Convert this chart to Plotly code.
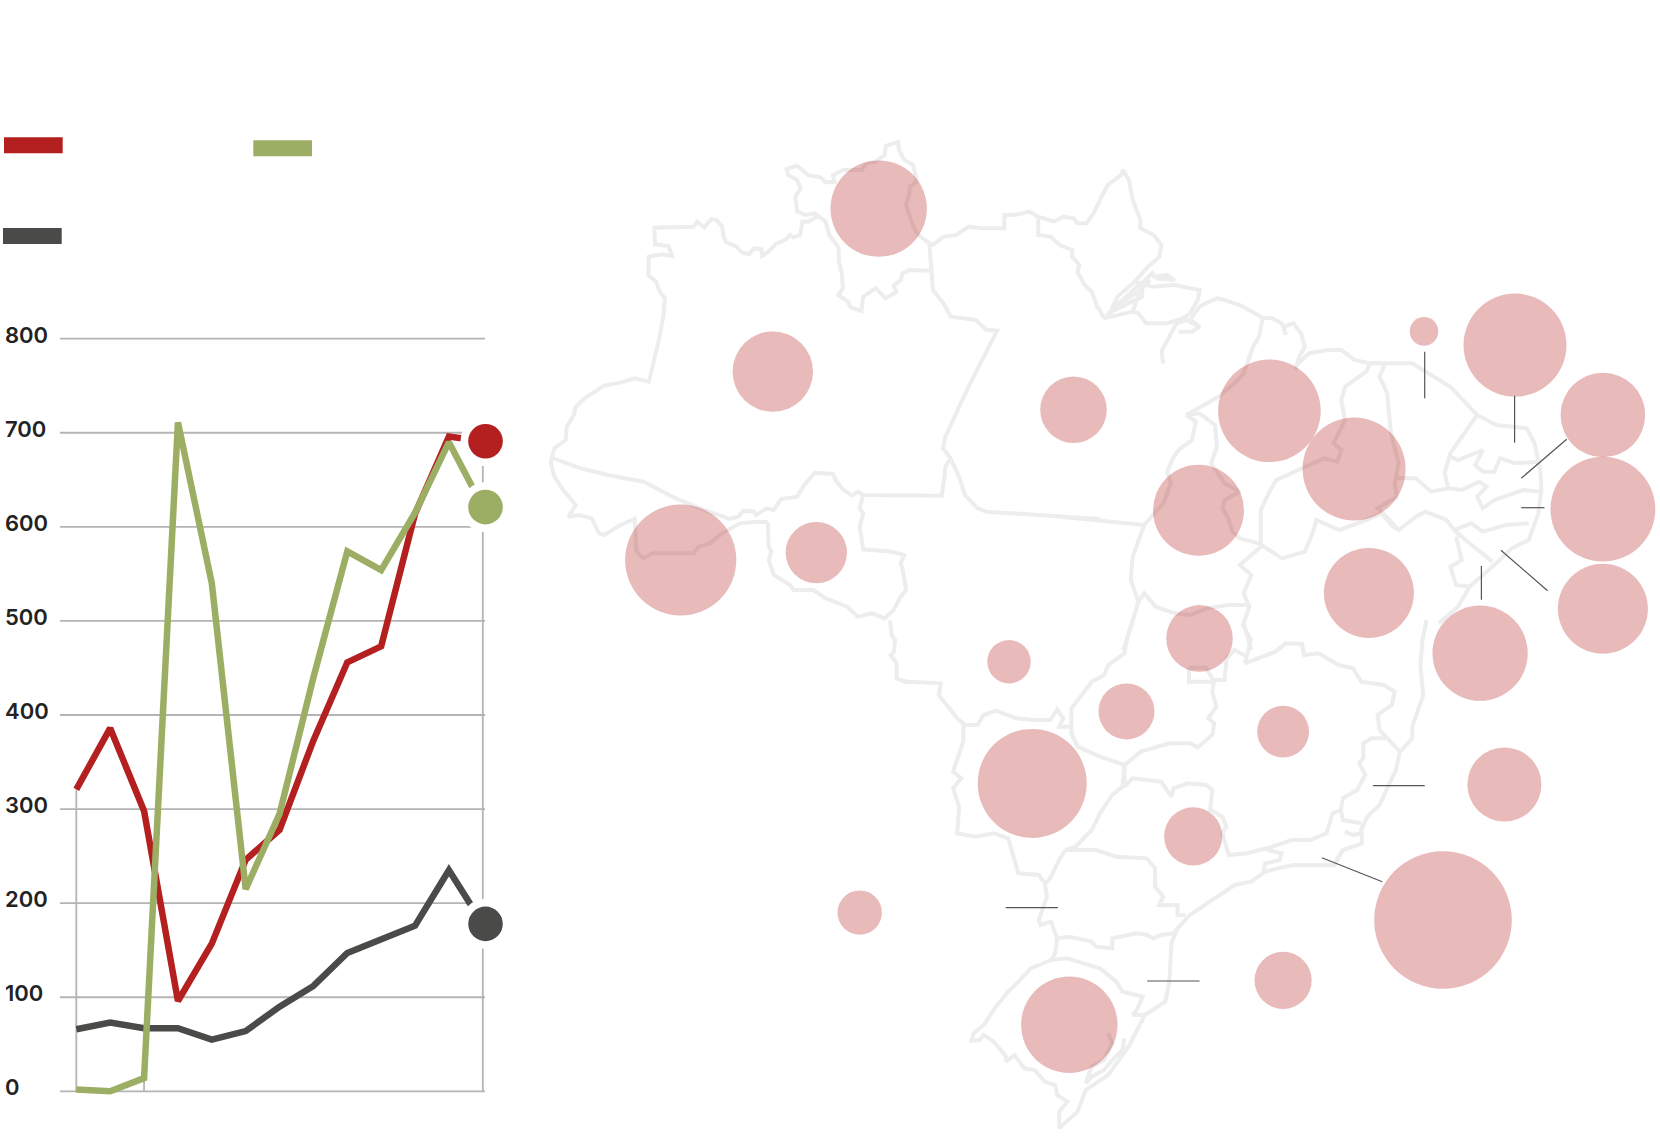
import plotly.graph_objects as go

# line chart values
years = list(range(13))
red_values = [321, 386, 298, 96, 157, 246, 278, 373, 456, 473, 614, 696, 691]
green_values = [2, 0, 14, 711, 540, 215, 295, 440, 574, 554, 615, 690, 621]
dark_values = [66, 73, 67, 67, 55, 64, 90, 112, 147, 161, 176, 235, 178]
tick_values = [0, 100, 200, 300, 400, 500, 600, 700, 800]
tick_labels = ["0", "100", "200", "300", "400", "500", "600", "700", "800"]

RED = "#b41f1f"
GREEN = "#9cae64"
DARK = "#4a4a48"
GRID = "#b4b4b4"
MAP_LINE = "#ededed"

# bubbles on the map, in page pixels
bubble_x = [878.7, 772.8, 1073.5, 1269.4, 1424, 1515, 1602.9, 1354.1, 1198.5, 1602.9, 680.7, 816.3, 1368.9,
            1602.9, 1480.1, 1199.5, 1009, 1126.5, 1283.1, 1032.2, 1504.4, 1193.2, 859.7, 1443, 1283.1, 1069.3]
bubble_y = [208.6, 371.6, 409.7, 410.8, 331.4, 345.1, 415, 469, 510.3, 509.2, 560, 552.6, 592.9,
            608.8, 653.2, 638.4, 661.7, 711.4, 731.6, 783.4, 784.5, 836.4, 912.6, 920, 980.4, 1024.8]
bubble_r = [48.2, 40.2, 33.3, 51.3, 14.3, 51.5, 42.3, 51.5, 45.5, 52.4, 55.6, 30.7, 45,
            45, 47.6, 33.3, 21.7, 28, 25.9, 54.5, 37, 29.1, 22.2, 68.8, 28.6, 48.2]

# leader lines
leaders = [[(1424.7, 351.7), (1424.7, 398.3)], [(1514.6, 395.7), (1514.6, 442.7)], [(1566.7, 439.3), (1521.2, 478.3)],
           [(1521.2, 507.7), (1544.5, 507.7)], [(1500.9, 550.3), (1547.6, 590.7)], [(1481.4, 566), (1481.4, 599.7)],
           [(1372.9, 785.7), (1424.7, 785.7)], [(1321.9, 857.7), (1382.3, 881.7)], [(1005.7, 907.7), (1057.9, 907.7)],
           [(1147.2, 981), (1199.5, 981)]]

roraima = [(1090,370),(1060,345),(1045,320),(1035,285),(1025,255),(1035,215),(1035,200),(1055,185),(1045,135),(1020,120),
           (1005,90),(1003,65),(985,72),(968,78),(965,105),(940,125),(915,130),(900,150),(870,150),(850,150),(820,165),
           (825,185),(800,187),(785,172),(750,165),(720,137),(690,147),(695,165),(720,180),(730,205),(715,230),(720,275),
           (745,285),(770,280),(800,305),(810,345),(835,380),(838,430),(845,460),(848,505),(835,525),(862,545),(870,562),
           (900,573),(905,530),(940,505),(968,535),(998,515),(990,497),(1010,480),(1015,460),(1035,450),(1092,452)]
amazonas_north = [(775,290),(750,305),(735,305),(728,345),(710,352),(700,345),(690,358),(660,372),(640,395),(622,408),
                  (620,388),(600,385),(585,402),(565,397),(550,380),(520,365),(513,345),(510,320),(495,300),(480,297),
                  (460,322),(440,305),(430,320),(320,323),(322,373),(360,378),(370,408),(340,403),(305,410),(303,465),
                  (325,485),(335,515),(350,535),(345,590),(335,650),(315,740),(305,785),(265,775),(225,788),(180,797),
                  (125,835),(100,860),(95,885),(75,920),(72,960),(40,985),(30,1025),(40,1070),(65,1110),(100,1155),
                  (80,1190),(110,1185),(145,1195),(165,1240),(180,1245),(225,1215),(265,1197),(270,1295),(290,1315),
                  (315,1300),(430,1300),(445,1280),(475,1270),(510,1240),(560,1210),(610,1205),(638,1207)]
acre_border = [(30,1012),(115,1045),(190,1065),(290,1085),(380,1135),(460,1170),(530,1197),(555,1190),(570,1172),(600,1175),
               (605,1185),(635,1165),(655,1170),(675,1137),(720,1130),(740,1095),(770,1058),(820,1062),(830,1085),(850,1110),
               (875,1127),(890,1115),(905,1125),(965,1125),(1125,1127),(1132,1075),(1135,1040),(1150,1015)]
rondonia = [(638,1207),(640,1280),(648,1295),(640,1320),(655,1365),(700,1395),(710,1410),(765,1410),(800,1435),(860,1460),
            (890,1490),(930,1480),(965,1495),(990,1470),(1010,1430),(1025,1410),(1015,1345),(1010,1330),(1020,1305),(985,1295),
            (905,1288),(895,1220),(905,1180),(895,1165),(905,1125)]
para_west = [(1090,370),(1100,510),(1130,550),(1150,590),(1220,600),(1250,630),(1280,632),(1200,800),(1135,950),(1128,985),
             (1150,1015),(1175,1075),(1190,1125),(1225,1165),(1250,1175),(1480,1190),(1568,1197)]
para_north = [(1090,370),(1100,375),(1130,350),(1165,345),(1200,320),(1240,325),(1300,325),(1300,285),(1330,285),(1370,275),
              (1395,290),(1440,305),(1465,290),(1495,295),(1505,310),(1530,310),(1550,280),(1568,240)]
amapa_west = [(1395,290),(1395,345),(1430,350),(1455,375),(1490,390),(1490,410),(1510,435),(1505,455),(1525,495),(1545,515),
              (1560,560),(1568,570)]

amapa_coast = [(104,150),(125,105),(160,75),(165,60),(180,90),(190,150),(210,210),(210,235),(245,255),(265,285),(260,320),
               (230,350),(195,395),(150,440),(130,490),(115,505),(190,485)]
amapa_south = [(104,480),(115,505)]
marajo = [(200,395),(240,410),(300,405),(365,420),(360,450),(340,490),(320,505),(280,520),(225,520),(205,490),(190,485),(215,400)]
delta_a = [(240,380),(280,375),(300,390),(250,385)]
delta_b = [(140,480),(190,420),(210,400),(145,470)]
delta_c = [(125,490),(215,440),(215,400),(245,365)]
delta_d = [(150,465),(205,425),(235,390)]
para_coast = [(270,640),(265,605),(290,550),(305,520),(330,510),(365,530),(345,545),(310,545)]
maranhao_coast = [(365,530),(340,510),(365,470),(380,460),(410,445),(430,450),(470,465),(510,490),(530,503),(555,505),(580,520),
                  (590,555),(585,530),(610,520),(630,550),(640,590),(625,620),(615,660)]
para_maranhao = [(530,503),(520,560),(505,590),(480,670),(465,690),(415,740),(330,795),(365,790),(405,825),(410,890),(395,940),
                 (430,1000),(470,1025),(430,1050),(425,1075),(440,1105),(450,1145),(470,1165),(520,1180)]
para_tocantins = [(330,795),(355,815),(345,870),(310,900),(295,925),(280,965),(290,1000),(270,1060),(220,1125)]
para_south = [(0,1100),(30,1103),(120,1115),(220,1125)]
tocantins_west = [(220,1125),(190,1220),(185,1290),(205,1355),(175,1470),(165,1500)]
goias_north = [(205,1355),(220,1330),(250,1370),(300,1390),(340,1395),(385,1375),(440,1365),(490,1365)]
maranhao_south = [(520,1180),(580,1225),(640,1205),(660,1150),(670,1110),(730,1140),(790,1115),(840,1090),(870,1130),(885,1140),
                  (930,1100),(955,1085),(1010,1110),(1030,1140)]
tocantins_east = [(530,1185),(470,1245),(500,1275),(480,1330),(495,1370),(480,1420),(500,1500)]
maranhao_piaui = [(810,640),(800,665),(745,710),(735,750),(745,810),(715,880),(735,900),(725,935),(690,925),(565,990),(545,1030),
                  (525,1080),(525,1185)]
piaui_ceara = [(850,640),(835,680),(855,730),(865,850),(885,940),(875,1000),(880,1040),(830,1075),(845,1090),(885,1140)]
north_coast = [(615,650),(650,610),(700,600),(735,600),(770,630),(810,640),(850,640),(920,640),(1020,710),(1090,795),(1140,825),
               (1220,835),(1240,880),(1255,960),(1258,1020),(1250,1090),(1225,1170),(1180,1195),(1140,1240),(1070,1310),(1040,1370),(990,1420)]
ceara_rn = [(1090,795),(1050,860),(1020,910),(1005,970),(1015,1015)]
rn_paraiba = [(1020,920),(1040,930),(1105,900),(1085,945),(1105,965),(1135,965),(1150,925),(1190,940),(1250,935)]
pernambuco_north = [(875,985),(930,985),(970,1025),(1015,1015),(1050,1020),(1095,995),(1115,1010),(1090,1040),(1105,1075),(1135,1050),
                    (1210,1020),(1255,1025)]
pernambuco_south = [(1030,1140),(1075,1120),(1105,1145),(1165,1125),(1225,1120)]
alagoas_sergipe = [(1030,1140),(1060,1170),(1130,1235)]
sergipe_bahia = [(1035,1160),(1050,1230),(1020,1250),(1035,1305),(1070,1310)]

bahia_coast = [(1290,0),(1280,60),(1275,140),(1282,225),(1255,320),(1255,355),(1225,395),(1215,450),(1190,515),(1175,555),(1145,590),
               (1130,630),(1132,670),(1085,690),(1065,730)]
minas_north = [(845,130),(920,95),(945,70),(985,72),(990,105),(1025,100),(1075,135),(1110,145),(1130,185),(1185,195),(1212,215),
               (1205,255),(1170,285),(1175,330),(1190,350),(1225,395)]
espirito_santo = [(1190,355),(1155,355),(1135,370),(1135,415),(1125,430),(1140,465),(1120,510),(1085,535),(1080,570),(1085,600),(1130,610)]
minas_south = [(1080,570),(1060,580),(1045,640),(1005,660),(960,660),(900,685),(880,690),(850,700),(805,705),(790,640),(800,620),
               (790,590),(760,570),(765,510),(750,495),(705,490),(670,505),(665,530),(640,485),(570,475),(550,500),(550,435)]
minas_goias = [(550,435),(590,395),(660,370),(710,370),(730,382),(765,345),(770,310),(755,295),(775,260),(765,215),(770,180),(795,180),
               (800,115),(820,90),(850,110)]
federal_district = [(708,143),(750,143),(770,185),(708,185),(708,143)]
bahia_goias = [(845,130),(860,60),(840,15),(845,0)]
goias_west = [(570,0),(555,60),(550,100),(510,135),(500,165),(470,185),(445,225),(420,265),(420,340),(435,380),(490,410),(540,430),(550,435)]
mato_grosso_south = [(420,320),(390,320),(400,295),(385,268),(368,300),(325,300),(285,295),(235,272),(205,285),(190,315),(160,315),
                     (140,295),(95,225),(100,190),(20,185),(0,180)]
ms_west = [(155,315),(155,365),(130,455),(150,475),(130,505),(145,560),(140,640),(185,650),(230,640),(265,655),(290,760),(340,765),
           (355,790),(360,830),(340,900),(345,915),(370,905),(385,955)]
parana_west = [(405,690),(390,720),(370,770),(358,790)]
sao_paulo_south = [(405,690),(480,690),(530,710),(605,715),(625,745),(625,800),(645,830),(635,855),(680,855),(680,885),(700,885)]
sao_paulo_west = [(550,435),(545,500),(520,525),(490,580),(470,630),(430,680),(405,690)]
santa_catarina_north = [(385,955),(415,950),(470,965),(480,980),(520,985),(520,955),(580,940),(605,945),(620,955),(640,945),(670,940),(680,925)]
santa_catarina_south = [(385,955),(380,1000),(370,1020),(410,1015),(450,1030),(490,1045),(530,1085),(545,1115),(595,1130),(580,1170),(570,1185),(600,1185)]
south_coast = [(370,1020),(320,1045),(290,1085),(265,1115),(235,1160),(205,1215),(180,1240),(175,1262),(195,1260),(205,1245),(230,1265),
               (260,1310),(260,1325),(280,1305),(305,1345),(330,1350),(355,1385),(380,1395),(385,1425),(410,1445),(390,1475),(390,1525),
               (435,1475),(455,1410),(510,1365),(560,1280),(600,1185),(650,1145),(660,1085),(665,1000),(665,970),(680,925),(710,885),
               (765,840),(820,795),(860,785),(895,755),(925,745),(965,735),(1065,735),(1085,690)]
patos_lagoon = [(510,1240),(520,1270),(500,1320),(470,1340),(455,1390),(470,1370),(500,1350),(520,1320),(545,1290),(550,1255)]
rio_bay = [(1090,635),(1110,645),(1130,640)]
santos_bay = [(900,690),(935,700),(930,720),(895,730),(890,755)]

bolivia_border = [(270,240),(275,285),(285,300),(282,335),(272,345),(290,370),(290,415),(320,428),(330,424)]

crop_a = [roraima, amazonas_north, acre_border, rondonia, para_west, para_north, amapa_west]
crop_b = [amapa_coast, amapa_south, marajo, delta_a, delta_b, delta_c, delta_d, para_coast, maranhao_coast, para_maranhao, para_tocantins,
          para_south, tocantins_west, goias_north, maranhao_south, tocantins_east, maranhao_piaui, piaui_ceara, north_coast, ceara_rn,
          rn_paraiba, pernambuco_north, pernambuco_south, alagoas_sergipe, sergipe_bahia]
crop_c = [bahia_coast, minas_north, espirito_santo, minas_south, minas_goias, federal_district, bahia_goias, goias_west,
          mato_grosso_south, ms_west, parana_west, sao_paulo_south, sao_paulo_west, santa_catarina_north, santa_catarina_south,
          south_coast, patos_lagoon, rio_bay, santos_bay]


def add_border(fig, points, left, top, sx, sy):
    fig.add_trace(go.Scatter(x=[left + p[0] * sx for p in points], y=[top + p[1] * sy for p in points], mode="lines",
                             line=dict(color=MAP_LINE, width=4), xaxis="x", yaxis="y", hoverinfo="skip"))


fig = go.Figure()

for border in crop_a:
    add_border(fig, border, 540, 120, 560 / 1568, 1 / 3)
for border in crop_b:
    add_border(fig, border, 1060, 150, 600 / 1568, 1 / 3)
for border in crop_c:
    add_border(fig, border, 900, 620, 640 / 1568, 1 / 3)
add_border(fig, bolivia_border, 800, 540, 1 / 3, 1 / 3)

fig.add_trace(go.Scatter(x=bubble_x, y=bubble_y, mode="markers", xaxis="x", yaxis="y", hoverinfo="skip",
                         marker=dict(size=[r * 2 for r in bubble_r], color=RED, opacity=0.31, line_width=0)))

for leader in leaders:
    fig.add_trace(go.Scatter(x=[p[0] for p in leader], y=[p[1] for p in leader], mode="lines", xaxis="x", yaxis="y",
                             line=dict(color="#555555", width=1.2), hoverinfo="skip"))

# chart grid and axis lines
for value in tick_values:
    fig.add_trace(go.Scatter(x=[-0.481, 12.067], y=[value, value], mode="lines", xaxis="x2", yaxis="y2",
                             line=dict(color=GRID, width=1.8), hoverinfo="skip"))
fig.add_trace(go.Scatter(x=[years[0], years[0]], y=[red_values[0], 0], mode="lines", xaxis="x2", yaxis="y2",
                         line=dict(color=GRID, width=1.8), hoverinfo="skip"))
fig.add_trace(go.Scatter(x=[years[2], years[2]], y=[green_values[2], 0], mode="lines", xaxis="x2", yaxis="y2",
                         line=dict(color=GRID, width=1.8), hoverinfo="skip"))
fig.add_trace(go.Scatter(x=[years[12], years[12]], y=[red_values[12], 0], mode="lines", xaxis="x2", yaxis="y2",
                         line=dict(color=GRID, width=1.8), hoverinfo="skip"))

for values, color in [(dark_values, DARK), (red_values, RED), (green_values, GREEN)]:
    fig.add_trace(go.Scatter(x=years, y=values, mode="lines", xaxis="x2", yaxis="y2",
                             line=dict(color=color, width=6.5), hoverinfo="skip"))

end_x = years[12] + 0.08
end_values = [red_values[12], green_values[12], dark_values[12]]
fig.add_trace(go.Scatter(x=[end_x] * 3, y=end_values, mode="markers", xaxis="x2", yaxis="y2",
                         marker=dict(size=50, color="white", line_width=0), hoverinfo="skip"))
fig.add_trace(go.Scatter(x=[end_x] * 3, y=end_values, mode="markers", xaxis="x2", yaxis="y2",
                         marker=dict(size=34.6, color=[RED, GREEN, DARK], line_width=0), hoverinfo="skip"))

# legend swatches
for x0, y0, color in [(4, 137.3, RED), (253.3, 140.3, GREEN), (3, 228, DARK)]:
    fig.add_shape(type="rect", x0=x0, x1=x0 + 58.7, y0=y0, y1=y0 + 16, xref="x", yref="y", fillcolor=color, line_width=0)

for value, label in zip(tick_values, tick_labels):
    fig.add_annotation(text=label, xref="paper", x=3 / 1660, xanchor="left", yref="y2", y=value, yanchor="middle", yshift=4,
                       showarrow=False, font=dict(family="Inter", size=22, color="#222222", weight=600))

# chart axes fill the page too, so the end dots and thick lines are not cut off
fig.update_layout(
    width=1660, height=1144, margin=dict(l=0, r=0, t=0, b=0), paper_bgcolor="white", plot_bgcolor="rgba(0,0,0,0)",
    showlegend=False, hovermode=False,
    xaxis=dict(domain=[0, 1], range=[0, 1660], visible=False),
    yaxis=dict(domain=[0, 1], range=[1144, 0], visible=False),
    xaxis2=dict(domain=[0, 600 / 1660], range=[-2.253, 15.46], visible=False, anchor="y2"),
    yaxis2=dict(domain=[0, 1], range=[-56, 1160], visible=False, anchor="x2"),
)

fig.write_html("out.html", post_script="document.body.style.margin='0';", config=dict(displayModeBar=False))
